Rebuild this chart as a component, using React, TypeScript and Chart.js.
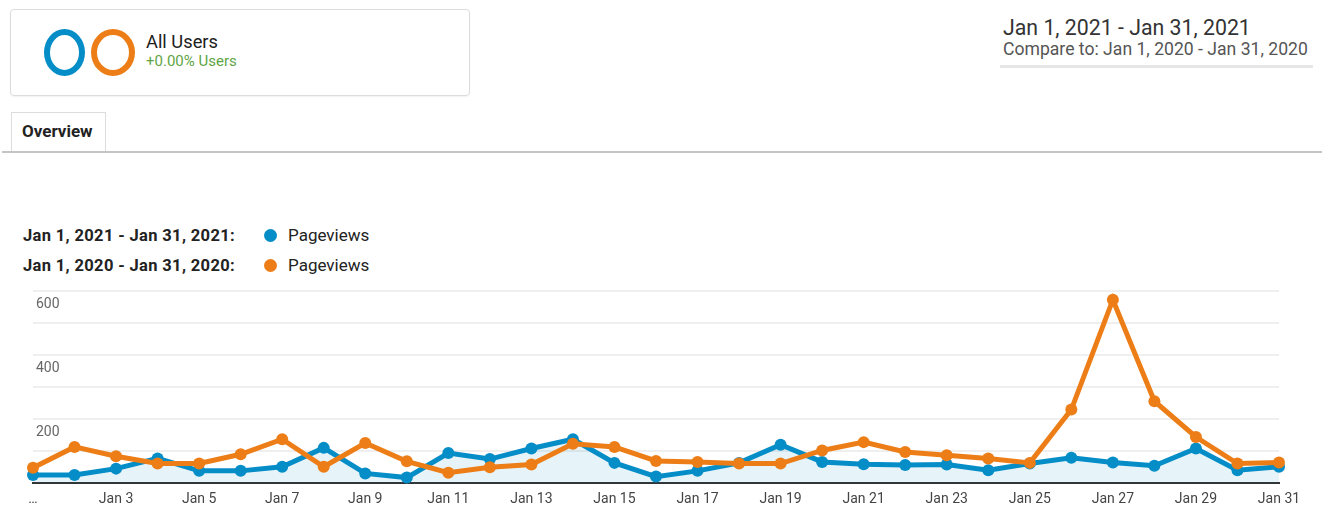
import React, { useEffect, useRef } from 'react';
import { Chart, registerables } from 'chart.js';

Chart.register(...registerables);

const categories = [
  'Jan 1', 'Jan 2', 'Jan 3', 'Jan 4', 'Jan 5', 'Jan 6', 'Jan 7', 'Jan 8', 'Jan 9', 'Jan 10',
  'Jan 11', 'Jan 12', 'Jan 13', 'Jan 14', 'Jan 15', 'Jan 16', 'Jan 17', 'Jan 18', 'Jan 19', 'Jan 20',
  'Jan 21', 'Jan 22', 'Jan 23', 'Jan 24', 'Jan 25', 'Jan 26', 'Jan 27', 'Jan 28', 'Jan 29', 'Jan 30', 'Jan 31',
];

const xTickLabels = [
  '…', '', 'Jan 3', '', 'Jan 5', '', 'Jan 7', '', 'Jan 9', '',
  'Jan 11', '', 'Jan 13', '', 'Jan 15', '', 'Jan 17', '', 'Jan 19', '',
  'Jan 21', '', 'Jan 23', '', 'Jan 25', '', 'Jan 27', '', 'Jan 29', '', 'Jan 31',
];

const yTickLabels = [200, 400, 600];

const pageviews2021 = [
  25, 25, 45, 77, 38, 38, 51, 110, 30, 17,
  94, 75, 108, 137, 63, 20, 38, 63, 120, 66, 59,
  56, 58, 40, 61, 79, 64, 54, 108, 40, 51,
];

const pageviews2020 = [
  48, 113, 84, 61, 61, 90, 137, 51, 125, 68,
  32, 49, 58, 123, 113, 69, 66, 61, 61, 102, 128,
  97, 87, 77, 63, 230, 574, 256, 144, 61, 64,
];

const BLUE = '#058dc7';
const ORANGE = '#ed7e17';

function LineChart() {
  const ref = useRef<HTMLCanvasElement>(null);
  useEffect(() => {
    if (!ref.current) return;
    Chart.defaults.font.family = 'Roboto, sans-serif';
    const chart = new Chart(ref.current, {
      type: 'line',
      data: {
        labels: categories,
        datasets: [
          {
            label: 'Pageviews 2021',
            data: pageviews2021,
            borderColor: BLUE,
            backgroundColor: 'rgba(5,141,199,0.1)',
            pointBackgroundColor: BLUE,
            pointBorderWidth: 0,
            pointRadius: 6,
            borderWidth: 5,
            fill: 'origin',
            tension: 0,
            clip: false,
            order: 2,
          },
          {
            label: 'Pageviews 2020',
            data: pageviews2020,
            borderColor: ORANGE,
            backgroundColor: ORANGE,
            pointBackgroundColor: ORANGE,
            pointBorderWidth: 0,
            pointRadius: 6,
            borderWidth: 5,
            fill: false,
            tension: 0,
            clip: false,
            order: 1,
          },
        ],
      },
      options: {
        animation: false,
        responsive: false,
        maintainAspectRatio: false,
        layout: { padding: { left: 33, right: 47, top: 10, bottom: 0 } },
        plugins: { legend: { display: false }, tooltip: { enabled: false } },
        scales: {
          x: {
            type: 'category',
            offset: false,
            grid: { display: false, drawTicks: false },
            border: { display: true, color: '#333', width: 2 },
            ticks: {
              autoSkip: false,
              maxRotation: 0,
              minRotation: 0,
              padding: 8,
              color: '#444',
              font: { size: 14 },
              callback: (_v: any, i: number) => xTickLabels[i],
            },
            afterFit: (s: any) => { s.height = 23; },
          },
          y: {
            min: 0,
            max: 600,
            grid: { color: '#efefef', lineWidth: 2, drawTicks: false },
            border: { display: false },
            ticks: {
              stepSize: 100,
              mirror: true,
              padding: 3,
              labelOffset: 13,
              color: '#666',
              font: { size: 14 },
              callback: (v: any) => (yTickLabels.includes(Number(v)) ? String(v) : ''),
            },
            afterFit: (s: any) => { s.width = 0; },
          },
        },
      },
    } as any);
    return () => chart.destroy();
  }, []);
  return (
    <canvas
      ref={ref}
      width={1326}
      height={226}
      style={{ position: 'absolute', left: 0, top: 280, width: 1326, height: 226 }}
    />
  );
}

const abs = (s: React.CSSProperties): React.CSSProperties => ({ position: 'absolute', ...s });

export default function App() {
  return (
    <div
      style={{
        position: 'absolute', left: 0, top: 0, width: 1326, height: 506,
        background: '#fff', fontFamily: 'Roboto, sans-serif', overflow: 'hidden',
      }}
    >
      {/* Segment box */}
      <div style={abs({
        left: 10, top: 9, width: 460, height: 87, boxSizing: 'border-box',
        border: '1px solid #dcdcdc', borderRadius: 4, boxShadow: '0 1px 2px rgba(0,0,0,0.06)',
      })} />
      <div style={abs({
        left: 44, top: 29, width: 41, height: 47, boxSizing: 'border-box',
        border: `6px solid ${BLUE}`, borderRadius: '50%',
      })} />
      <div style={abs({
        left: 91, top: 29, width: 44, height: 47, boxSizing: 'border-box',
        border: `6px solid ${ORANGE}`, borderRadius: '50%',
      })} />
      <div style={abs({ left: 146, top: 33, fontSize: 18.3, lineHeight: '18px', color: '#212121', whiteSpace: 'nowrap' })}>All Users</div>
      <div style={abs({ left: 146, top: 54, fontSize: 15, lineHeight: '15px', color: '#5fa545', whiteSpace: 'nowrap' })}>+0.00% Users</div>

      {/* Date range */}
      <div style={abs({ left: 1003, top: 17, fontSize: 21.3, lineHeight: '21px', color: '#333', whiteSpace: 'nowrap' })}>Jan 1, 2021 - Jan 31, 2021</div>
      <div style={abs({ left: 1003, top: 40.5, fontSize: 17.6, lineHeight: '17px', color: '#555', whiteSpace: 'nowrap' })}>Compare to: Jan 1, 2020 - Jan 31, 2020</div>
      <div style={abs({ left: 1000, top: 65, width: 313, height: 3, background: '#e6e6e6' })} />

      {/* Tab */}
      <div style={abs({
        left: 11, top: 112, width: 95, height: 40, boxSizing: 'border-box',
        border: '1px solid #dcdcdc', borderBottom: 'none', background: '#fff',
      })} />
      <div style={abs({ left: 22, top: 123, fontSize: 17, lineHeight: '17px', fontWeight: 700, color: '#222', whiteSpace: 'nowrap' })}>Overview</div>
      <div style={abs({ left: 2, top: 151, width: 1320, height: 2, background: '#c4c4c4' })} />

      {/* Legend */}
      <div style={abs({ left: 23, top: 227.5, fontSize: 16.5, lineHeight: '16px', fontWeight: 700, letterSpacing: '0.35px', color: '#222', whiteSpace: 'nowrap' })}>Jan 1, 2021 - Jan 31, 2021:</div>
      <div style={abs({ left: 264, top: 229, width: 13, height: 13, borderRadius: '50%', background: BLUE })} />
      <div style={abs({ left: 288, top: 227, fontSize: 17, lineHeight: '17px', color: '#222', whiteSpace: 'nowrap' })}>Pageviews</div>
      <div style={abs({ left: 23, top: 257.5, fontSize: 16.5, lineHeight: '16px', fontWeight: 700, letterSpacing: '0.35px', color: '#222', whiteSpace: 'nowrap' })}>Jan 1, 2020 - Jan 31, 2020:</div>
      <div style={abs({ left: 264, top: 259, width: 13, height: 13, borderRadius: '50%', background: ORANGE })} />
      <div style={abs({ left: 288, top: 257, fontSize: 17, lineHeight: '17px', color: '#222', whiteSpace: 'nowrap' })}>Pageviews</div>

      <LineChart />
    </div>
  );
}
